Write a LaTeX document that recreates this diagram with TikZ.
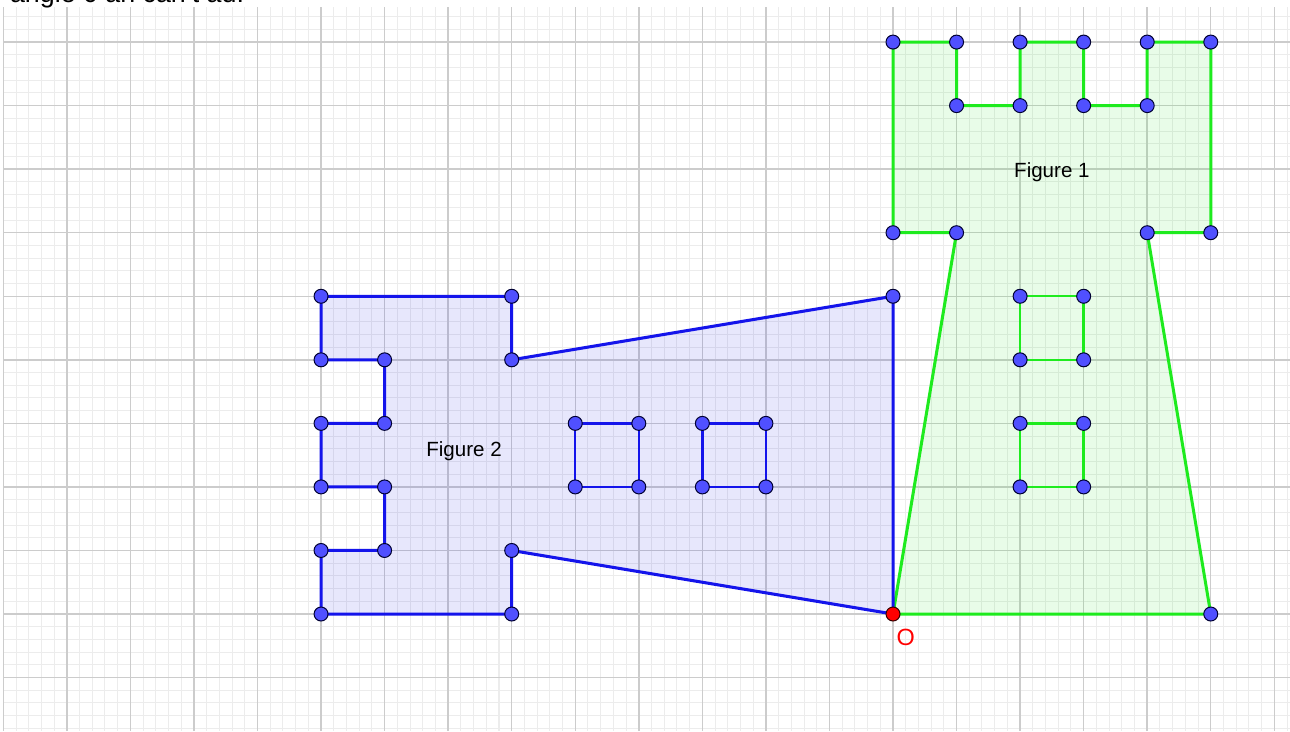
\documentclass[tikz,border=0pt]{standalone}
\usepackage{fontspec}
\setmainfont{Liberation Sans}
\definecolor{gline}{RGB}{30,235,30}
\definecolor{bline}{RGB}{20,20,235}
\definecolor{ptfill}{RGB}{80,80,255}
\definecolor{minorgrid}{RGB}{236,236,236}
\definecolor{majorgrid}{RGB}{204,204,204}
\tikzset{
  minorg/.style={draw=minorgrid, line width=0.45pt},
  majorg/.style={draw=majorgrid, line width=0.65pt},
  fig1/.style={draw=gline, line width=1.35pt, fill=gline, fill opacity=0.1, draw opacity=1, line join=round},
  fig2/.style={draw=bline, line width=1.35pt, fill=bline, fill opacity=0.1, draw opacity=1, line join=round},
  hole1/.style={draw=gline, line width=1.1pt},
  hole2/.style={draw=bline, line width=1.1pt},
  pt/.style={circle, fill=ptfill, draw=black!80!blue, line width=0.45pt, inner sep=0pt, minimum size=0.22cm},
  opt/.style={circle, fill=red, draw=black!80!red, line width=0.45pt, inner sep=0pt, minimum size=0.22cm},
  lbl/.style={font=\fontsize{9.2}{11}\selectfont, text=black}
}
\begin{document}
\begin{tikzpicture}
\useasboundingbox (-14.052,-1.841) rectangle (6.247,9.662);
\fill[white] (-14.052,-1.841) rectangle (6.247,9.662);
\draw[minorg] (-14,-1.841) grid[step=0.2] (6.247,9.55);
\draw[majorg] (-14,-1.841) grid[step=1] (6.247,9.55);
\node[anchor=base west, font=\fontsize{12}{14}\selectfont, inner sep=0pt] (toptext) at (-13.9,9.63) {angle 0 an can't ad.};
% Figure 1 vertices
\foreach \n/\x/\y in {a1/0/9,a2/1/9,a3/1/8,a4/2/8,a5/2/9,a6/3/9,a7/3/8,a8/4/8,a9/4/9,a10/5/9,a11/5/6,a12/4/6,a13/5/0,o/0/0,a15/1/6,a16/0/6,
  h1/2/5,h2/3/5,h3/3/4,h4/2/4,k1/2/3,k2/3/3,k3/3/2,k4/2/2}
  \coordinate (\n) at (\x,\y);
% Figure 2 vertices
\foreach \n/\x/\y in {b1/-9/0,b2/-9/1,b3/-8/1,b4/-8/2,b5/-9/2,b6/-9/3,b7/-8/3,b8/-8/4,b9/-9/4,b10/-9/5,b11/-6/5,b12/-6/4,b13/0/5,b15/-6/1,b16/-6/0,
  m1/-5/2,m2/-5/3,m3/-4/3,m4/-4/2,q1/-3/2,q2/-3/3,q3/-2/3,q4/-2/2}
  \coordinate (\n) at (\x,\y);
\path[fig1] (a1)--(a2)--(a3)--(a4)--(a5)--(a6)--(a7)--(a8)--(a9)--(a10)--(a11)--(a12)--(a13)--(o)--(a15)--(a16)--cycle;
\path[fig2] (b1)--(b2)--(b3)--(b4)--(b5)--(b6)--(b7)--(b8)--(b9)--(b10)--(b11)--(b12)--(b13)--(o)--(b15)--(b16)--cycle;
\path[hole1] (h1)--(h2)--(h3)--(h4)--cycle;
\path[hole1] (k1)--(k2)--(k3)--(k4)--cycle;
\path[hole2] (m1)--(m2)--(m3)--(m4)--cycle;
\path[hole2] (q1)--(q2)--(q3)--(q4)--cycle;
\node[lbl] (fig1label) at (2.5,6.955) {Figure 1};
\node[lbl] (fig2label) at (-6.75,2.565) {Figure 2};
\node[font=\fontsize{10.5}{12}\selectfont, text=red] (olabel) at (0.2,-0.37) {O};
\foreach \n in {a1,a2,a3,a4,a5,a6,a7,a8,a9,a10,a11,a12,a13,a15,a16,h1,h2,h3,h4,k1,k2,k3,k4,
  b1,b2,b3,b4,b5,b6,b7,b8,b9,b10,b11,b12,b13,b15,b16,m1,m2,m3,m4,q1,q2,q3,q4}
  \node[pt] (p-\n) at (\n) {};
\node[opt] (p-o) at (o) {};
\end{tikzpicture}
\end{document}
